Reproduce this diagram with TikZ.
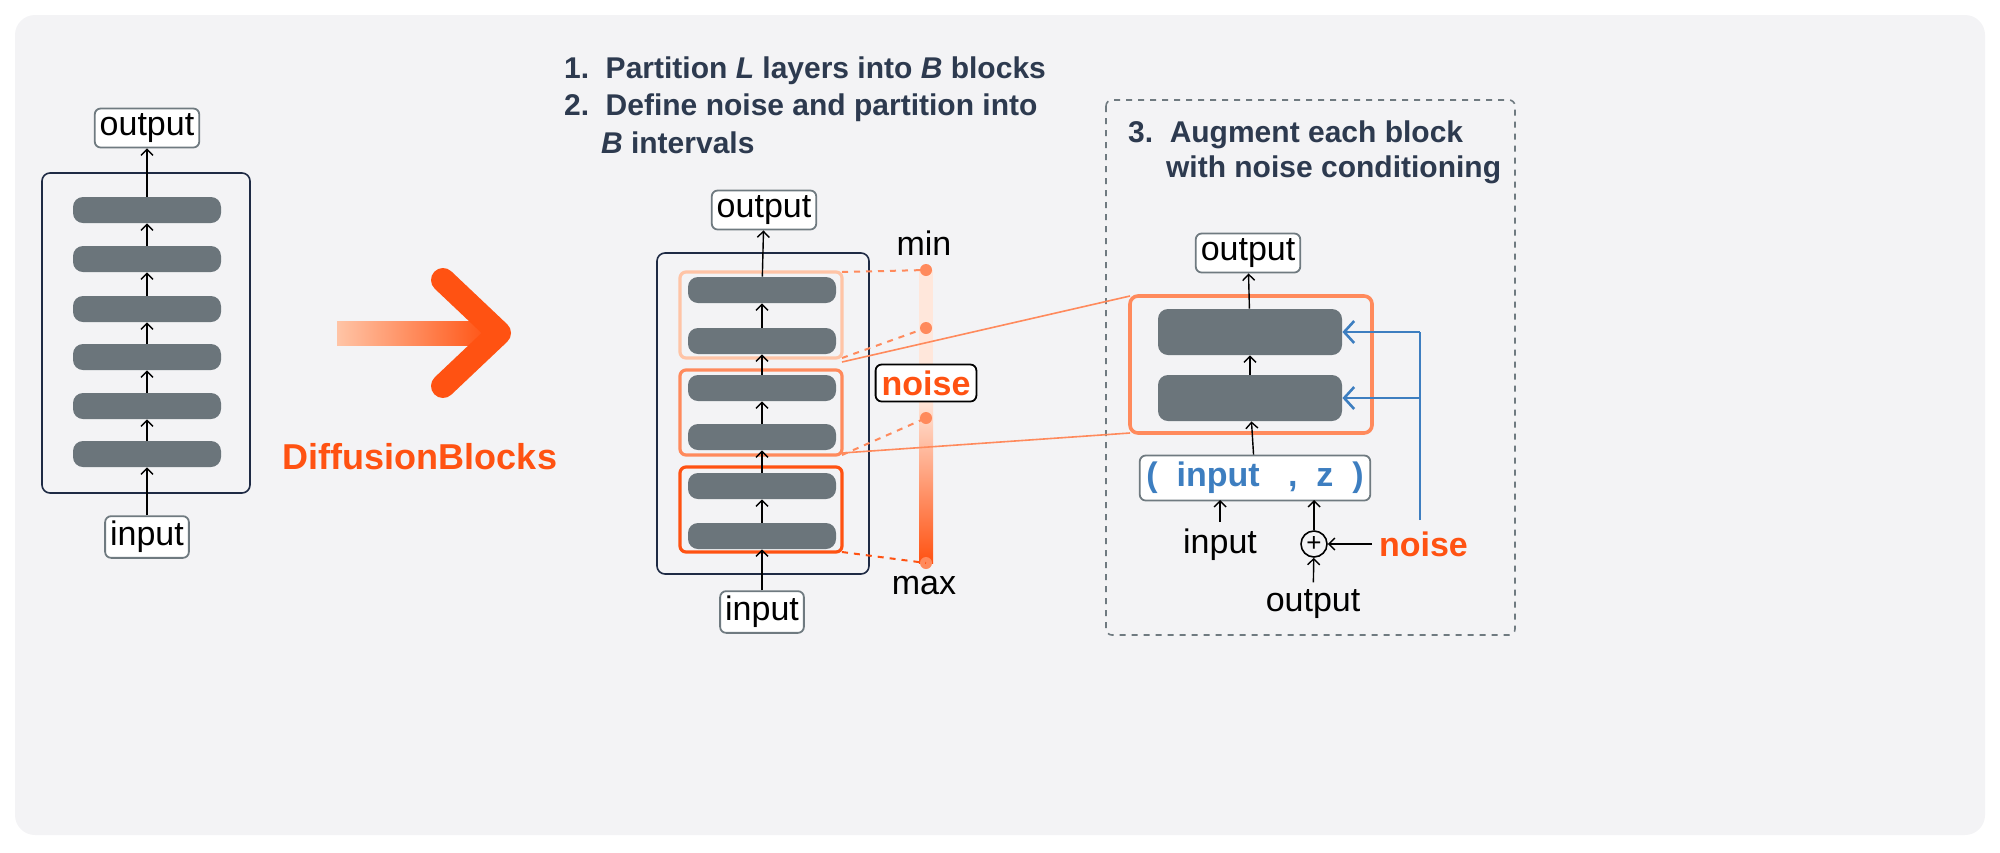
\documentclass[tikz,border=0pt]{standalone}
\usepackage{fontspec}
\setmainfont{Liberation Sans}
\usetikzlibrary{arrows.meta}
\definecolor{bg}{HTML}{F3F3F5}
\definecolor{bar}{HTML}{6B757B}
\definecolor{navy}{HTML}{1E2A44}
\definecolor{ttl}{HTML}{2D3A4F}
\definecolor{o1}{HTML}{FFC4A6}
\definecolor{o2}{HTML}{FF8A5C}
\definecolor{o3}{HTML}{FF5212}
\definecolor{blu}{HTML}{3D7EC0}
\definecolor{gbox}{HTML}{6F7A80}
\tikzset{
 layer/.style={fill=bar,rounded corners=5pt,minimum width=74pt,minimum height=13pt,inner sep=0},
 bigbar/.style={fill=bar,rounded corners=5pt,minimum width=92pt,minimum height=23pt,inner sep=0},
 lbl/.style={draw=gbox,fill=white,rounded corners=3pt,line width=0.9pt,inner sep=2.5pt,font=\fontsize{17}{18}\selectfont},
 plain/.style={font=\fontsize{17}{18}\selectfont},
 conn/.style={-{Straight Barb[length=3pt,width=6pt]},line width=0.7pt},
 ttlt/.style={font=\bfseries\fontsize{15}{16}\selectfont,text=ttl,anchor=west},
}
\begin{document}
\begin{tikzpicture}[x=0.5pt,y=-0.5pt]
\useasboundingbox (0,0) rectangle (2000,852);
\fill[bg,rounded corners=10pt] (15,15) rectangle (1985,835);
% left
\draw[navy,line width=0.8pt,rounded corners=4pt] (42,173) rectangle (250,493);
\foreach \i/\y in {1/454,2/406,3/357,4/309,5/259,6/210}{\node[layer] (L\i) at (147,\y) {};}
\node[lbl] (Lout) at (147,128) {output};
\node[lbl] (Lin) at (147,537) {input};
\draw[conn] (Lin) -- (L1);
\foreach \a/\b in {1/2,2/3,3/4,4/5,5/6}{\draw[conn] (L\a) -- (L\b);}
\draw[conn] (L6) -- (Lout);
% big arrow
\shade[left color=o1,right color=o3] (337,321) rectangle (490,345);
\draw[o3,line width=12pt,line cap=round,line join=round] (443,280) -- (499,333) -- (443,386);
\node[font=\bfseries\fontsize{18}{19}\selectfont,text=o3] (db) at (420,457) {DiffusionBlocks};
% titles
\node[ttlt] (t1) at (557,71) {1.\ \ Partition \textit{L} layers into \textit{B} blocks};
\node[ttlt] (t2) at (557,108) {2.\ \ Define noise and partition into};
\node[ttlt] (t3) at (594,143) {\textit{B} intervals};
% middle
\draw[navy,line width=0.8pt,rounded corners=4pt] (657,253) rectangle (869,574);
\foreach \i/\y in {1/536,2/486,3/437,4/388,5/341,6/290}{\node[layer] (M\i) at (762,\y) {};}
\draw[o1,line width=1.6pt,rounded corners=3pt] (680,272) rectangle (842,358);
\draw[o2,line width=1.6pt,rounded corners=3pt] (680,370) rectangle (842,455);
\draw[o3,line width=1.6pt,rounded corners=3pt] (680,467) rectangle (842,552);
\node[lbl] (Mout) at (764,210) {output};
\node[lbl] (Min) at (762,612) {input};
\draw[conn] (Min) -- (M1);
\foreach \a/\b in {1/2,2/3,3/4,4/5,5/6}{\draw[conn] (M\a) -- (M\b);}
\draw[conn] (M6) -- (Mout);
% noise bar
\fill[o1!40] (919,270) rectangle (933,400);
\shade[top color=o1!40,bottom color=o3] (919,399) rectangle (933,563);
\foreach \n/\y in {a/270,b/328,c/418,d/563}{\fill[o2] (926,\y) circle (3pt) coordinate (d\n);}
\draw[o2,dashed,line width=1pt] (842,272) -- (da);
\draw[o2,dashed,line width=1pt] (842,358) -- (db);
\draw[o2,dashed,line width=1pt] (842,455) -- (dc);
\draw[o3,dashed,line width=1pt] (842,552) -- (dd);
\node[plain] (mn) at (924,243) {min};
\node[plain] (mx) at (924,586) {max};
\node[draw=black,fill=white,rounded corners=3pt,line width=0.9pt,inner sep=3pt,font=\bfseries\fontsize{17}{18}\selectfont,text=o3] (nz) at (926,383) {noise};
% right panel
\draw[gbox,dashed,line width=0.8pt,rounded corners=3pt] (1106,100) rectangle (1515,635);
\node[ttlt] (t4) at (1121,135) {3.\ \ Augment each block};
\node[ttlt] (t5) at (1159,170) {with noise conditioning};
\draw[o2,line width=0.8pt] (842,362) -- (1130,296);
\draw[o2,line width=0.8pt] (842,453) -- (1130,433);
\draw[o2,line width=1.8pt,rounded corners=4pt,fill=bg] (1130,296) rectangle (1372,433);
\node[bigbar] (R2) at (1250,332) {};
\node[bigbar] (R1) at (1250,398) {};
\node[lbl] (Rout) at (1248,253) {output};
\node[draw=gbox,fill=white,rounded corners=3pt,line width=0.9pt,minimum width=108pt,minimum height=22pt,font=\bfseries\fontsize{17}{18}\selectfont,text=blu] (tup) at (1255,478) {(\ \ input\ \ \ ,\ \ z\ \ )};
\draw[conn] (tup) -- (R1);
\draw[conn] (R1) -- (R2);
\draw[conn] (R2) -- (Rout);
\node[plain] (rin) at (1220,545) {input};
\node[draw,circle,line width=0.8pt,minimum size=13pt,inner sep=0,font=\fontsize{13}{13}\selectfont] (pl) at (1314,544) {+};
\node[plain] (rout2) at (1313,604) {output};
\node[font=\bfseries\fontsize{17}{18}\selectfont,text=o3,anchor=west] (rn) at (1372,544) {noise};
\draw[conn] (rin) -- (1220,500);
\draw[conn] (pl) -- (1314,500);
\draw[conn] (rout2) -- (pl);
\draw[conn] (rn) -- (pl);
\coordinate (bj) at (1420,520);
\draw[blu,line width=1.3pt] (bj) -- (1420,332);
\draw[blu,line width=1.3pt,-{Straight Barb[length=5pt,width=11pt]}] (1420,332) -- (R2.east);
\draw[blu,line width=1.3pt,-{Straight Barb[length=5pt,width=11pt]}] (1420,398) -- (R1.east);
\end{tikzpicture}
\end{document}
